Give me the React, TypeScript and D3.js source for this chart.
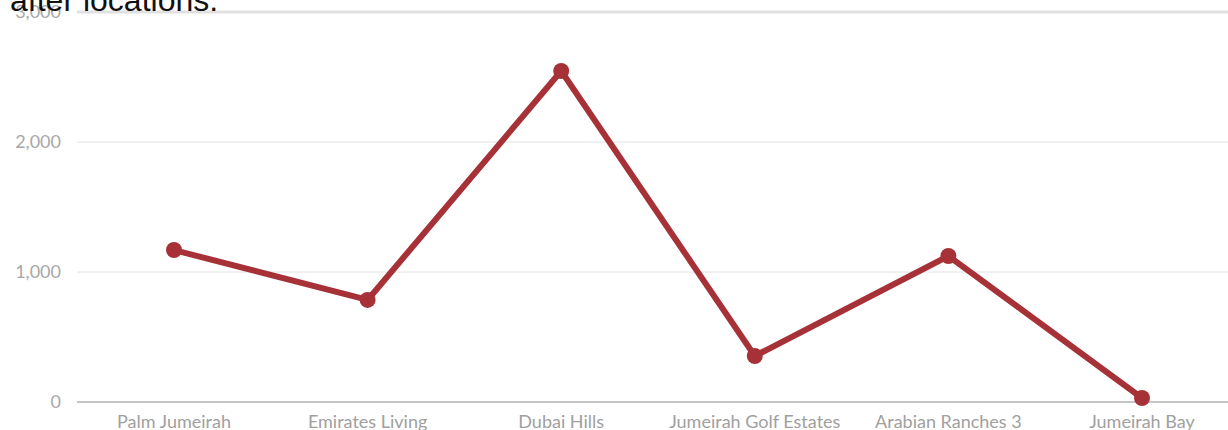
import React from "react";
import * as d3 from "d3";

const categories = [
  "Palm Jumeirah",
  "Emirates Living",
  "Dubai Hills",
  "Jumeirah Golf Estates",
  "Arabian Ranches 3",
  "Jumeirah Bay",
];
const values = [1169, 785, 2546, 354, 1123, 31];
const yTicks = [0, 1000, 2000, 3000];
const titleText = "after locations.";

const W = 1228;
const H = 430;

export default function App() {
  const x = d3.scalePoint<string>().domain(categories).range([174, 1142]);
  const y = d3.scaleLinear().domain([0, 3000]).range([402, 12]);
  const line = d3
    .line<number>()
    .x((_, i) => x(categories[i]) as number)
    .y((d) => y(d));
  const fmt = d3.format(",");
  return (
    <svg
      width={W}
      height={H}
      style={{ position: "absolute", left: 0, top: 0, display: "block" }}
    >
      {yTicks.map((t) => (
        <g key={t}>
          <line
            x1={77}
            x2={W}
            y1={y(t)}
            y2={y(t)}
            stroke={t === 0 ? "#c4c4c4" : t === 3000 ? "#e0e0e0" : "#e2e2e2"}
            strokeWidth={t === 0 ? 2 : t === 3000 ? 3 : 1}
          />
          <text
            x={61}
            y={y(t)}
            dy="0.35em"
            textAnchor="end"
            fill="#a8a8a8"
            fontFamily="Lato, 'Open Sans', sans-serif"
            fontSize={18}
          >
            {fmt(t)}
          </text>
        </g>
      ))}
      {categories.map((c) => (
        <text
          key={c}
          x={x(c)}
          y={428}
          textAnchor="middle"
          fill="#a0a0a0"
          fontFamily="Lato, 'Open Sans', sans-serif"
          fontSize={18}
        >
          {c}
        </text>
      ))}
      <path
        d={line(values) || ""}
        fill="none"
        stroke="#a63238"
        strokeWidth={6}
        strokeLinejoin="round"
      />
      {values.map((v, i) => (
        <circle
          key={i}
          cx={x(categories[i])}
          cy={y(v)}
          r={8}
          fill="#a63238"
        />
      ))}
      <text
        x={10}
        y={11}
        fill="#111"
        fontFamily="'Liberation Sans', Helvetica, Arial, sans-serif"
        fontSize={32}
      >
        {titleText}
      </text>
    </svg>
  );
}
